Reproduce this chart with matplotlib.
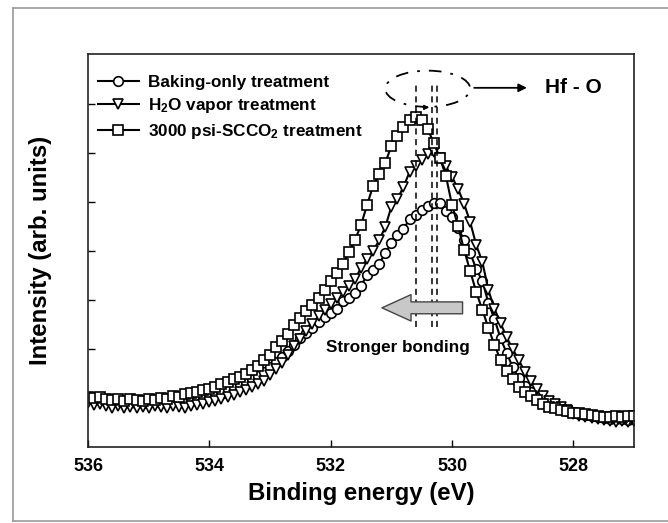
import numpy as np
import matplotlib
matplotlib.use('Agg')
import matplotlib.pyplot as plt
from matplotlib.patches import Ellipse
from matplotlib.lines import Line2D

plt.rcParams['font.family'] = ['Liberation Sans', 'DejaVu Sans']
plt.rcParams['font.weight'] = 'bold'
plt.rcParams['mathtext.fontset'] = 'custom'
plt.rcParams['mathtext.rm'] = 'Liberation Sans:bold'
plt.rcParams['mathtext.default'] = 'rm'

# binding energy grid, 536.0 -> 527.0 eV in 0.1 eV steps
energy = np.round(np.arange(536.0, 526.95, -0.1), 1)

baking = [0.98, 0.96, 0.98, 0.94, 0.92, 0.94, 0.92, 0.94, 0.92, 0.90,
          0.94, 0.92, 0.94, 0.94, 0.96, 0.96, 0.98, 1.00, 1.02, 1.04,
          1.08, 1.10, 1.14, 1.18, 1.22, 1.27, 1.33, 1.39, 1.45, 1.53,
          1.63, 1.73, 1.84, 1.96, 2.08, 2.22, 2.33, 2.43, 2.55, 2.65,
          2.73, 2.82, 2.98, 3.04, 3.14, 3.29, 3.51, 3.61, 3.73, 3.96,
          4.16, 4.33, 4.45, 4.65, 4.73, 4.84, 4.92, 4.98, 4.98, 4.82,
          4.69, 4.47, 4.22, 3.96, 3.63, 3.39, 2.94, 2.61, 2.22, 1.92,
          1.63, 1.41, 1.24, 1.12, 1.02, 0.94, 0.86, 0.82, 0.78, 0.74,
          0.71, 0.67, 0.65, 0.63, 0.61, 0.59, 0.58, 0.57, 0.57, 0.56,
          0.57]

h2o = [0.90, 0.86, 0.88, 0.84, 0.80, 0.84, 0.80, 0.82, 0.80, 0.82,
       0.80, 0.84, 0.82, 0.80, 0.84, 0.82, 0.80, 0.84, 0.86, 0.88,
       0.92, 0.94, 0.98, 1.02, 1.06, 1.12, 1.16, 1.22, 1.29, 1.35,
       1.47, 1.59, 1.71, 1.88, 2.06, 2.20, 2.37, 2.51, 2.67, 2.80,
       2.92, 3.04, 3.16, 3.29, 3.43, 3.65, 3.84, 4.00, 4.22, 4.49,
       4.90, 5.06, 5.31, 5.61, 5.73, 5.86, 5.98, 6.02, 5.90, 5.73,
       5.51, 5.27, 4.96, 4.59, 4.12, 3.78, 3.20, 2.82, 2.53, 2.24,
       2.00, 1.78, 1.53, 1.35, 1.18, 1.04, 0.94, 0.88, 0.82, 0.76,
       0.67, 0.63, 0.61, 0.59, 0.57, 0.55, 0.53, 0.51, 0.53, 0.51,
       0.53]

scco2 = [1.02, 1.00, 1.02, 0.98, 0.96, 0.98, 0.94, 0.98, 0.96, 0.94,
         0.98, 0.96, 1.00, 0.98, 1.04, 1.02, 1.08, 1.10, 1.12, 1.16,
         1.18, 1.22, 1.29, 1.33, 1.39, 1.43, 1.49, 1.57, 1.65, 1.78,
         1.88, 2.04, 2.16, 2.31, 2.49, 2.63, 2.78, 2.90, 3.04, 3.20,
         3.39, 3.55, 3.73, 3.98, 4.22, 4.53, 4.94, 5.33, 5.57, 5.80,
         6.14, 6.35, 6.53, 6.67, 6.73, 6.67, 6.49, 6.20, 5.90, 5.53,
         4.94, 4.51, 4.02, 3.59, 3.16, 2.80, 2.43, 2.08, 1.78, 1.55,
         1.39, 1.22, 1.12, 1.04, 0.96, 0.88, 0.82, 0.80, 0.76, 0.73,
         0.69, 0.69, 0.67, 0.65, 0.63, 0.61, 0.61, 0.63, 0.61, 0.63,
         0.63]

labels = ['Baking-only treatment', 'H$_2$O vapor treatment',
          '3000 psi-SCCO$_2$ treatment']
markers = ['o', 'v', 's']
peaks = [530.25, 530.33, 530.6]
x_ticks = [536, 534, 532, 530, 528]

fig = plt.figure(figsize=(6.68, 5.23), dpi=100)
ax = fig.add_axes([88 / 668, 76 / 523, 546 / 668, 393 / 523])

# outer grey frame of the original figure
for xs, ys in [([13, 668], [515, 515]), ([13, 13], [2, 515]), ([13, 668], [2, 2])]:
    fig.add_artist(Line2D([x / 668 for x in xs], [y / 523 for y in ys],
                          color='#9a9a9a', lw=1.2))

handles = []
for series, mk, lab in zip([baking, h2o, scco2], markers, labels):
    line, = ax.plot(energy, series, color='black', lw=1.5, marker=mk,
                    markersize=6.9, markerfacecolor='white',
                    markeredgecolor='black', markeredgewidth=1.2, label=lab)
    handles.append(line)

ax.set_xlim(536, 527)
ax.set_ylim(0, 8.02)
ax.set_xticks(x_ticks)
ax.set_yticks([1, 2, 3, 4, 5, 6, 7])
ax.set_yticklabels([])
ax.tick_params(direction='in', length=5, width=1, labelsize=13, pad=8)
for lab in ax.get_xticklabels():
    lab.set_fontweight('bold')
for sp in ax.spines.values():
    sp.set_linewidth(1.2)
    sp.set_color('#222222')

ax.set_xlabel('Binding energy (eV)', fontsize=17.3, fontweight='bold', labelpad=5)
ax.set_ylabel('Intensity (arb. units)', fontsize=17.3, fontweight='bold', labelpad=18)

leg = ax.legend(handles=handles, loc='upper left', frameon=False,
                fontsize=12.3, handlelength=2.4, handletextpad=0.55,
                labelspacing=0.38, borderaxespad=0.0,
                bbox_to_anchor=(0.005, 0.965))
for t in leg.get_texts():
    t.set_fontweight('bold')

# dashed peak markers
for p in peaks:
    ax.plot([p, p], [2.45, 7.39], color='black', lw=1.1, ls=(0, (4, 3)))

ax.add_patch(Ellipse((530.4, 7.31), 1.4, 0.74, fill=False, ec='black',
                     lw=1.3, ls=(0, (7, 5, 1.5, 5))))
ax.annotate('', xy=(530.33, 6.93), xytext=(530.52, 6.93),
            arrowprops=dict(arrowstyle='-|>', color='black', lw=1,
                            mutation_scale=7))
ax.annotate('', xy=(528.72, 7.33), xytext=(529.68, 7.33),
            arrowprops=dict(arrowstyle='-|>', color='black', lw=1.3,
                            mutation_scale=12))
ax.text(528.47, 7.33, 'Hf - O', fontsize=15, fontweight='bold',
        va='center', ha='left')

ax.annotate('', xy=(531.2, 2.84), xytext=(529.78, 2.84),
            arrowprops=dict(arrowstyle='simple,head_length=1.1,head_width=1.0,tail_width=0.45',
                            fc='#c8c8c8', ec='#444444', lw=1,
                            mutation_scale=19))
ax.text(530.9, 2.04, 'Stronger bonding', fontsize=12.3, fontweight='bold',
        ha='center', va='center')

fig.savefig('out.png', dpi=100)
